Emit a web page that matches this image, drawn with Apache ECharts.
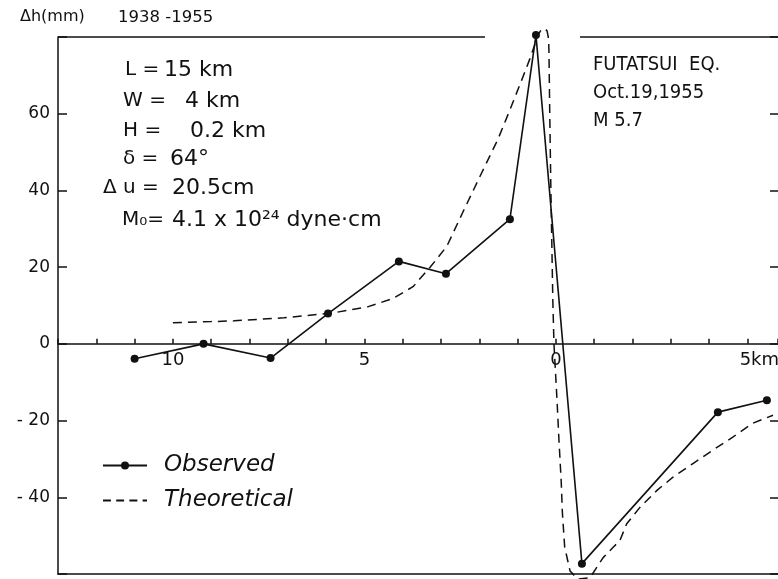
<!DOCTYPE html>
<html>
<head>
<meta charset="utf-8">
<script src="https://cdn.jsdelivr.net/npm/echarts@6/dist/echarts.min.js"></script>
<style>html,body{margin:0;padding:0;background:#fff}#c{width:778px;height:579px}</style>
</head>
<body>
<div id="c"></div>
<script>
// Distance along profile (km): negative = left of fault (labelled positive), positive = right
const obsX = [-11.0, -9.2, -7.45, -5.95, -4.1, -2.87, -1.2, -0.52, 0.68, 4.23, 5.51];
const obsY = [-3.9, 0.0, -3.7, 7.9, 21.5, 18.3, 32.5, 80.5, -57.3, -17.8, -14.7];

const theoX = [-10.0, -9.0, -8.4, -7.1, -5.8, -4.9, -4.26, -3.73, -3.29, -2.85, -2.43, -1.98, -1.51, -1.2, -0.86, -0.68, -0.55, -0.47, -0.38, -0.29, -0.23, -0.19, -0.18, -0.16, -0.13, -0.08, -0.05, 0.03, 0.08, 0.14, 0.17, 0.23, 0.37, 0.57, 0.89, 1.23, 1.49, 1.67, 1.85, 2.19, 2.64, 3.05, 3.58, 4.10, 4.62, 5.14, 5.67];
const theoY = [5.5, 5.8, 6.0, 6.8, 8.1, 9.7, 11.8, 14.9, 19.9, 25.4, 34.3, 43.7, 53.4, 61.0, 69.6, 74.3, 78.0, 80.5, 81.9, 82.2, 81.6, 79.5, 76.0, 60.0, 40.0, 11.5, 0.0, -14.7, -25.0, -36.0, -44.0, -53.0, -59.2, -61.3, -61.0, -55.8, -53.1, -51.3, -46.9, -42.7, -38.2, -34.8, -31.2, -27.7, -24.3, -20.7, -18.6];

const xLabels = { '-10': '10', '-5': '5', '0': '0', '5': '{k|5km}' };
const xMin = -13, xMax = 5.8, yMin = -60, yMax = 80;

const paramLabels = ['L =', 'W =', 'H =', 'δ =', 'Δ u =', 'M₀='];
const paramValues = ['15 km', '4 km', '0.2 km', '64°', '20.5cm', '4.1 x 10²⁴ dyne·cm'];
const eventLines = ['FUTATSUI  EQ.', 'Oct.19,1955', 'M 5.7'];

const ink = '#111';
const font = '"DejaVu Sans", sans-serif';
const W = 778, H = 579, gL = 58, gT = 37, gB = 5;
const gridH = H - gT - gB;
const zeroOffset = -gridH * (0 - yMin) / (yMax - yMin);

const chart = echarts.init(document.getElementById('c'), null, { renderer: 'canvas' });

const paramY = [70, 101, 131, 159, 188, 220];
const paramLX = [125, 123, 123, 123, 103, 122];
const paramVX = [164, 185, 190, 170, 172, 172];

const graphics = [];
graphics.push({ type: 'line', shape: { x1: gL, y1: gT, x2: 485, y2: gT }, style: { stroke: ink, lineWidth: 1.5 } });
graphics.push({ type: 'line', shape: { x1: 580, y1: gT, x2: W, y2: gT }, style: { stroke: ink, lineWidth: 1.5 } });
graphics.push({ type: 'text', left: 20, top: 9, style: { text: 'Δh(mm)', font: '16px ' + font, fill: ink } });
graphics.push({ type: 'text', left: 118, top: 9, style: { text: '1938 -1955', font: '16.5px ' + font, fill: ink } });
paramLabels.forEach((t, i) => {
  graphics.push({ type: 'text', x: paramLX[i], y: paramY[i], style: { text: t, font: '20px ' + font, fill: ink, verticalAlign: 'middle' } });
  graphics.push({ type: 'text', x: paramVX[i], y: paramY[i], style: { text: paramValues[i], font: '22px ' + font, fill: ink, verticalAlign: 'middle' } });
});
eventLines.forEach((t, i) => {
  graphics.push({ type: 'text', x: 593, y: 65 + i * 28, style: { text: t, font: '20px "DejaVu Sans Condensed", "Liberation Sans Narrow", sans-serif', fill: ink, verticalAlign: 'middle' } });
});

const dashIcon = 'path://M0,0h9v2h-9zM15,0h9v2h-9zM30,0h9v2h-9zM45,0h5v2h-5z';

chart.setOption({
  animation: false,
  backgroundColor: '#fff',
  grid: { left: gL, right: 0, top: gT, bottom: gB, containLabel: false, outerBoundsMode: 'none' },
  legend: {
    orient: 'vertical', left: 97, top: 449, itemWidth: 44, itemHeight: 10, itemGap: 12,
    textStyle: { fontFamily: font, fontSize: 23, fontStyle: 'italic', color: ink, padding: [0, 0, 0, 12] },
    data: ['Observed', { name: 'Theoretical', icon: dashIcon, itemStyle: { color: ink } }]
  },
  xAxis: [
    {
      type: 'value', min: xMin, max: xMax, interval: 1, position: 'bottom', offset: zeroOffset,
      axisLine: { onZero: false, lineStyle: { color: ink, width: 1.5 } },
      axisTick: { inside: true, length: 5, lineStyle: { color: ink, width: 1.5 } },
      axisLabel: {
        color: ink, fontFamily: font, fontSize: 18, margin: 7, hideOverlap: false,
        formatter: v => xLabels[String(v)] || '',
        rich: { k: { fontFamily: font, fontSize: 18, color: ink, padding: [0, 0, 0, 24] } }
      },
      splitLine: { show: false }
    },
    {
      type: 'value', min: xMin, max: xMax, position: 'bottom',
      axisLine: { onZero: false, lineStyle: { color: ink, width: 1.5 } },
      axisTick: { show: false }, axisLabel: { show: false }, splitLine: { show: false }
    }
  ],
  yAxis: [
    {
      type: 'value', min: yMin, max: yMax, interval: 20, position: 'left',
      axisLine: { show: true, onZero: false, lineStyle: { color: ink, width: 1.5 } },
      axisTick: { inside: true, length: 9, lineStyle: { color: ink, width: 1.5 } },
      axisLabel: {
        color: ink, fontFamily: font, fontSize: 17, margin: 8,
        formatter: v => (v === yMax || v === yMin) ? '' : (v < 0 ? '- ' + (-v) : String(v))
      },
      splitLine: { show: false }
    },
    {
      type: 'value', min: yMin, max: yMax, interval: 20, position: 'right',
      axisLine: { show: false, onZero: false },
      axisTick: { inside: true, length: 8, lineStyle: { color: ink, width: 1.5 } },
      axisLabel: { show: false }, splitLine: { show: false }
    }
  ],
  series: [
    {
      name: 'Observed', type: 'line', xAxisIndex: 0, yAxisIndex: 0,
      data: obsX.map((x, i) => [x, obsY[i]]),
      symbol: 'circle', symbolSize: 8, clip: false,
      itemStyle: { color: ink },
      lineStyle: { color: ink, width: 1.6 }
    },
    {
      name: 'Theoretical', type: 'line', xAxisIndex: 0, yAxisIndex: 0,
      data: theoX.map((x, i) => [x, theoY[i]]),
      symbol: 'none', clip: false,
      itemStyle: { color: ink },
      lineStyle: { color: ink, width: 1.5, type: [9, 6] }
    }
  ],
  graphic: graphics
});
</script>
</body>
</html>
